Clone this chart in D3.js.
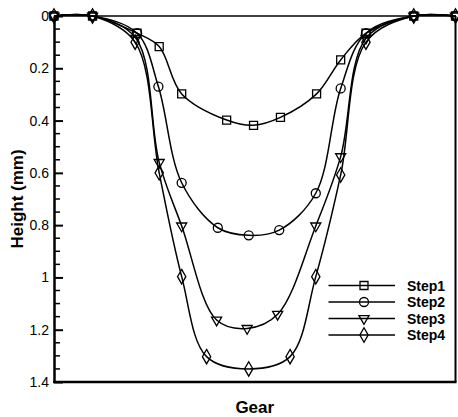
<!DOCTYPE html>
<html>
<head>
<meta charset="utf-8">
<script src="https://cdn.jsdelivr.net/npm/d3@7/dist/d3.min.js"></script>
<style>
  html, body { margin: 0; padding: 0; background: #fff; }
  svg { display: block; font-family: Arial, "Liberation Sans", Helvetica, sans-serif; }
</style>
</head>
<body>
<svg id="chart" width="458" height="417"></svg>
<script>
// Profile depth along the gear, for four machining steps
const stepNames = ["Step1", "Step2", "Step3", "Step4"];

const step1X = [0, 9.6, 20.7, 26.2, 31.8, 43.0, 49.7, 56.4, 65.4, 71.4, 77.7, 89.6, 100];
const step1Y = [0, 0, 0.066, 0.117, 0.298, 0.398, 0.418, 0.388, 0.298, 0.168, 0.066, 0, 0];

const step2X = [0, 9.6, 20.7, 26.0, 31.8, 40.8, 48.5, 56.1, 65.2, 71.4, 77.7, 89.6, 100];
const step2Y = [0, 0, 0.066, 0.27, 0.638, 0.81, 0.839, 0.819, 0.678, 0.277, 0.066, 0, 0];

const step3X = [0, 9.6, 20.4, 26.2, 31.8, 40.5, 48.1, 55.7, 65.2, 71.4, 77.7, 89.6, 100];
const step3Y = [0, 0, 0.085, 0.56, 0.803, 1.163, 1.195, 1.141, 0.803, 0.538, 0.085, 0, 0];

const step4X = [0, 9.6, 20.2, 26.2, 31.8, 38.0, 48.5, 58.8, 65.2, 71.4, 77.7, 89.6, 100];
const step4Y = [0, 0, 0.1, 0.6, 0.997, 1.303, 1.35, 1.303, 0.997, 0.608, 0.1, 0, 0];

const yMajorTicks = [0, 0.2, 0.4, 0.6, 0.8, 1, 1.2, 1.4];
const yTickLabels = ["0", "0.2", "0.4", "0.6", "0.8", "1", "1.2", "1.4"];
const yMinorStep = 0.05;

const xTitle = "Gear";
const yTitle = "Height (mm)";

const markerTypes = [d3.symbolSquare, d3.symbolCircle, d3.symbolTriangle, d3.symbolDiamond];

const series = [
  {name: stepNames[0], xs: step1X, ys: step1Y},
  {name: stepNames[1], xs: step2X, ys: step2Y},
  {name: stepNames[2], xs: step3X, ys: step3Y},
  {name: stepNames[3], xs: step4X, ys: step4Y}
].map((s, i) => ({...s, symbol: markerTypes[i], points: s.xs.map((x, j) => ({x, y: s.ys[j]}))}));

const svg = d3.select("#chart");
const plotLeft = 54, plotRight = 455.5, plotTop = 16, plotBottom = 382;

const x = d3.scaleLinear().domain([0, 100]).range([plotLeft, plotRight]);
const y = d3.scaleLinear().domain([0, 1.4]).range([plotTop, plotBottom]);

// Frame
svg.append("line").attr("x1", plotLeft).attr("x2", plotRight).attr("y1", plotTop).attr("y2", plotTop)
  .attr("stroke", "#000").attr("stroke-width", 1.5);
svg.append("line").attr("x1", plotRight).attr("x2", plotRight).attr("y1", plotTop).attr("y2", plotBottom)
  .attr("stroke", "#000").attr("stroke-width", 2);

// Minor ticks
const minorTicks = d3.range(0, 1.4 + 1e-9, yMinorStep).filter(v => !yMajorTicks.some(m => Math.abs(m - v) < 1e-6));
svg.append("g").selectAll("line").data(minorTicks).join("line")
  .attr("x1", plotLeft).attr("x2", plotLeft + 6)
  .attr("y1", d => y(d)).attr("y2", d => y(d))
  .attr("stroke", "#000").attr("stroke-width", 1.5);

// Left axis with major ticks pointing inward
const yAxis = d3.axisRight(y).tickValues(yMajorTicks)
  .tickFormat((d, i) => yTickLabels[i]).tickSize(9).tickSizeOuter(0);
const gy = svg.append("g").attr("transform", `translate(${plotLeft},0)`).call(yAxis);
gy.select(".domain").attr("stroke-width", 2.5);
gy.selectAll(".tick line").attr("stroke-width", 2);
gy.selectAll(".tick text")
  .attr("x", -5).attr("text-anchor", "end")
  .attr("font-size", 14).attr("fill", "#000")
  .style("font-family", "Arial, 'Liberation Sans', sans-serif");

// Bottom axis line (no ticks)
svg.append("line").attr("x1", plotLeft - 1).attr("x2", plotRight + 1).attr("y1", plotBottom).attr("y2", plotBottom)
  .attr("stroke", "#000").attr("stroke-width", 2.5);

// Curves
const line = d3.line().x(d => x(d.x)).y(d => y(d.y)).curve(d3.curveCatmullRom.alpha(0.5));
svg.append("g").selectAll("path").data(series).join("path")
  .attr("d", d => line(d.points))
  .attr("fill", "none").attr("stroke", "#000").attr("stroke-width", 1.5);

// Markers (Step3 uses a downward triangle)
const markerSize = [64, 64, 44, 60];
series.forEach((s, i) => {
  const sym = d3.symbol().type(s.symbol).size(markerSize[i]);
  svg.append("g").selectAll("path").data(s.points).join("path")
    .attr("transform", d => `translate(${x(d.x)},${y(d.y)})` + (i === 2 ? " rotate(180)" : ""))
    .attr("d", sym())
    .attr("fill", "none").attr("stroke", "#000").attr("stroke-width", 1.3);
});

// Axis titles
svg.append("text").attr("x", (plotLeft + plotRight) / 2).attr("y", 413)
  .attr("text-anchor", "middle").attr("font-size", 17).attr("font-weight", "bold")
  .text(xTitle);
svg.append("text").attr("transform", `translate(23,199) rotate(-90)`)
  .attr("text-anchor", "middle").attr("font-size", 17).attr("font-weight", "bold")
  .text(yTitle);

// Legend
const legend = svg.append("g");
const legendY0 = 285.5, legendDy = 16.5;
series.forEach((s, i) => {
  const ly = legendY0 + i * legendDy;
  legend.append("line").attr("x1", 328.5).attr("x2", 395).attr("y1", ly).attr("y2", ly)
    .attr("stroke", "#000").attr("stroke-width", 1.5);
  legend.append("path")
    .attr("transform", `translate(364,${ly})` + (i === 2 ? " rotate(180)" : ""))
    .attr("d", d3.symbol().type(s.symbol).size(markerSize[i])())
    .attr("fill", "none").attr("stroke", "#000").attr("stroke-width", 1.3);
  legend.append("text").attr("x", 407).attr("y", ly).attr("dy", "0.36em")
    .attr("font-size", 14).attr("font-weight", "bold").text(s.name);
});
</script>
</body>
</html>
